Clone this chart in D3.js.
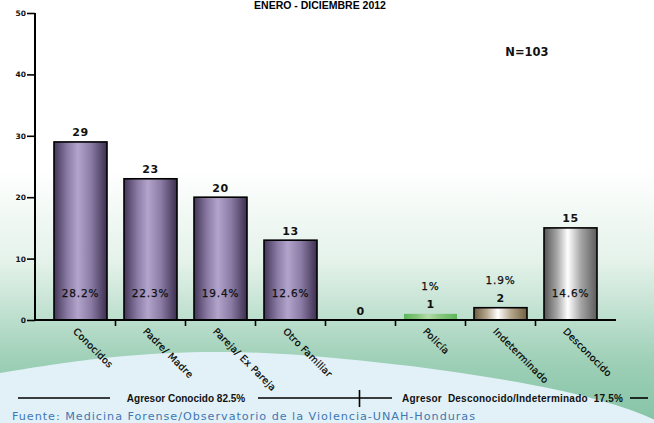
<!DOCTYPE html>
<html>
<head>
<meta charset="utf-8">
<script src="https://cdn.jsdelivr.net/npm/d3@7"></script>
<style>
    body { margin: 0; background: white; }
    svg { display: block; }
</style>
</head>
<body>
<div id="container"></div>
<script>
// tipo de agresor, enero - diciembre 2012

const categories = ["Conocidos", "Padre/ Madre", "Pareja/ Ex Pareja", "Otro Familiar", "", "Policía", "Indeterminado", "Desconocido"]
const values = [29, 23, 20, 13, 0, 1, 2, 15]
const percents = ["28.2%", "22.3%", "19.4%", "12.6%", "", "1%", "1.9%", "14.6%"]
const barStyle = ["purple", "purple", "purple", "purple", "purple", "green", "brown", "gray"]
const yTicks = [0, 10, 20, 30, 40, 50]

const w = 654
const h = 423

const svg = d3.select("#container")
    .append("svg")
    .attr("width", w)
    .attr("height", h)

const defs = svg.append("defs")

// fondo
const bg = defs.append("linearGradient")
    .attr("id", "bg")
    .attr("x1", 0).attr("y1", 0).attr("x2", 0).attr("y2", 1)
bg.append("stop").attr("offset", "0%").attr("stop-color", "#ffffff")
bg.append("stop").attr("offset", "40%").attr("stop-color", "#ffffff")
bg.append("stop").attr("offset", "62%").attr("stop-color", "#e4f2ea")
bg.append("stop").attr("offset", "86%").attr("stop-color", "#9ccfb6")
bg.append("stop").attr("offset", "100%").attr("stop-color", "#86c4a6")

svg.append("rect")
    .attr("width", w)
    .attr("height", h)
    .attr("fill", "url(#bg)")

const curve = d3.line().curve(d3.curveBasis)
svg.append("path")
    .attr("d", curve([[0, 373], [110, 355], [230, 350], [330, 357], [440, 369], [550, 387], [620, 405], [660, 422]]) + `L${w},${h}L0,${h}Z`)
    .attr("fill", "#e2f1f7")

// degradados de barras
const gradients = {
    purple: ["#433658", "#8a7aa4", "#b2a4cb", "#8b7ba5", "#3c2f4f"],
    green: ["#5db75a", "#86c67c", "#b5dcaa", "#86c67c", "#5db75a"],
    brown: ["#6b5b40", "#b8ab93", "#ffffff", "#b4a68c", "#70603f"],
    gray: ["#555555", "#a8a8a8", "#ffffff", "#a4a4a4", "#5c5c5c"]
}
Object.entries(gradients).forEach(([name, stops]) => {
    const g = defs.append("linearGradient")
        .attr("id", `g-${name}`)
        .attr("x1", 0).attr("y1", 0).attr("x2", 1).attr("y2", 0)
    stops.forEach((c, i) => {
        g.append("stop")
            .attr("offset", `${[0, 25, 45, 70, 100][i]}%`)
            .attr("stop-color", c)
    })
})

const xScale = d3.scaleBand()
    .domain(d3.range(categories.length))
    .range([45.5, 605.5])
    .paddingInner(0.243)
    .paddingOuter(0.1215)
const yScale = d3.scaleLinear()
    .domain([0, 50])
    .range([320, 13])

// titulo
svg.append("text")
    .attr("x", 320)
    .attr("y", 8.5)
    .attr("text-anchor", "middle")
    .style("font-family", "Liberation Sans, Arial, sans-serif")
    .style("font-weight", "bold")
    .style("font-size", "10.5px")
    .text("ENERO - DICIEMBRE 2012")

svg.append("text")
    .attr("x", 527)
    .attr("y", 56)
    .attr("text-anchor", "middle")
    .style("font-family", "DejaVu Sans, Verdana, sans-serif")
    .style("font-weight", "bold")
    .style("font-size", "11.5px")
    .attr("fill", "#111")
    .text("N=103")

// barras
svg.selectAll(null)
    .data(values)
    .enter()
    .append("rect")
    .attr("x", (d, i) => xScale(i))
    .attr("y", (d) => yScale(d))
    .attr("width", xScale.bandwidth())
    .attr("height", (d) => yScale(0) - yScale(d))
    .attr("fill", (d, i) => `url(#g-${barStyle[i]})`)
    .attr("stroke", (d, i) => barStyle[i] == "green" ? "none" : "#000")
    .attr("stroke-width", 1.6)

// valores
svg.selectAll(null)
    .data(values)
    .enter()
    .append("text")
    .attr("x", (d, i) => xScale(i) + xScale.bandwidth() / 2)
    .attr("y", (d) => yScale(d) - 5.5)
    .attr("text-anchor", "middle")
    .style("font-family", "DejaVu Sans, Verdana, sans-serif")
    .style("font-weight", "bold")
    .style("font-size", "11px")
    .style("letter-spacing", "0.5px")
    .attr("fill", "#111")
    .text((d) => d)

// porcentajes
svg.selectAll(null)
    .data(percents)
    .enter()
    .append("text")
    .attr("x", (d, i) => xScale(i) + xScale.bandwidth() / 2)
    .attr("y", (d, i) => values[i] >= 10 ? 297 : yScale(values[i]) - 23.5)
    .attr("text-anchor", "middle")
    .style("font-family", "DejaVu Sans, Verdana, sans-serif")
    .style("font-size", "10.5px")
    .style("letter-spacing", "0.8px")
    .attr("fill", "#111")
    .attr("stroke", "#111")
    .attr("stroke-width", 0.25)
    .text((d) => d)

// ejes
const yAxis = d3.axisLeft(yScale)
    .tickValues(yTicks)
    .tickSize(8)
    .tickPadding(1)
const gy = svg.append("g")
    .attr("transform", "translate(35, 0)")
    .call(yAxis)
gy.select(".domain").attr("d", `M0,${yScale(50)}V${yScale(0)}`).attr("stroke-width", 2)
gy.selectAll(".tick line").attr("stroke-width", 1.6)
gy.selectAll(".tick text")
    .style("font-family", "DejaVu Sans, Verdana, sans-serif")
    .style("font-weight", "bold")
    .style("font-size", "7.5px")
    .attr("fill", "#111")

svg.append("line")
    .attr("x1", 34).attr("x2", 616)
    .attr("y1", yScale(0)).attr("y2", yScale(0))
    .attr("stroke", "#000")
    .attr("stroke-width", 2)

svg.selectAll(null)
    .data(d3.range(1, categories.length))
    .enter()
    .append("line")
    .attr("x1", (i) => xScale(i) - xScale.step() * xScale.paddingInner() / 2)
    .attr("x2", (i) => xScale(i) - xScale.step() * xScale.paddingInner() / 2)
    .attr("y1", yScale(0))
    .attr("y2", yScale(0) + 6)
    .attr("stroke", "#000")
    .attr("stroke-width", 1.6)

svg.selectAll(null)
    .data(categories)
    .enter()
    .append("text")
    .attr("transform", (d, i) => `translate(${xScale(i) + xScale.bandwidth() / 2 - 8}, 332) rotate(45)`)
    .style("font-family", "DejaVu Sans, Verdana, sans-serif")
    .style("font-size", "9.5px")
    .style("letter-spacing", "0.3px")
    .attr("fill", "#000")
    .attr("stroke", "#000")
    .attr("stroke-width", 0.2)
    .text((d) => d)

// pie
const foot = svg.append("g")
    .attr("stroke", "#000")
    .attr("stroke-width", 1.6)
foot.append("line").attr("x1", 18).attr("x2", 110).attr("y1", 398).attr("y2", 398)
foot.append("line").attr("x1", 258).attr("x2", 392).attr("y1", 398).attr("y2", 398)
foot.append("line").attr("x1", 359.5).attr("x2", 359.5).attr("y1", 390).attr("y2", 407)
foot.append("line").attr("x1", 630).attr("x2", 648).attr("y1", 398).attr("y2", 398)

svg.append("text")
    .attr("x", 186)
    .attr("y", 401.5)
    .attr("text-anchor", "middle")
    .style("font-family", "Liberation Sans, Arial, sans-serif")
    .style("font-weight", "bold")
    .style("font-size", "10px")
    .attr("fill", "#111")
    .text("Agresor Conocido 82.5%")

svg.append("text")
    .attr("x", 402)
    .attr("y", 401.5)
    .attr("textLength", 221)
    .style("white-space", "pre")
    .style("font-family", "Liberation Sans, Arial, sans-serif")
    .style("font-weight", "bold")
    .style("font-size", "10px")
    .attr("fill", "#111")
    .text("Agresor  Desconocido/Indeterminado  17.5%")

svg.append("text")
    .attr("x", 12)
    .attr("y", 419.5)
    .attr("textLength", 463)
    .attr("lengthAdjust", "spacing")
    .style("font-family", "DejaVu Sans, Verdana, sans-serif")
    .style("font-size", "11.2px")
    .attr("fill", "#4077b3")
    .text("Fuente: Medicina Forense/Observatorio de la Violencia-UNAH-Honduras")
</script>
</body>
</html>
